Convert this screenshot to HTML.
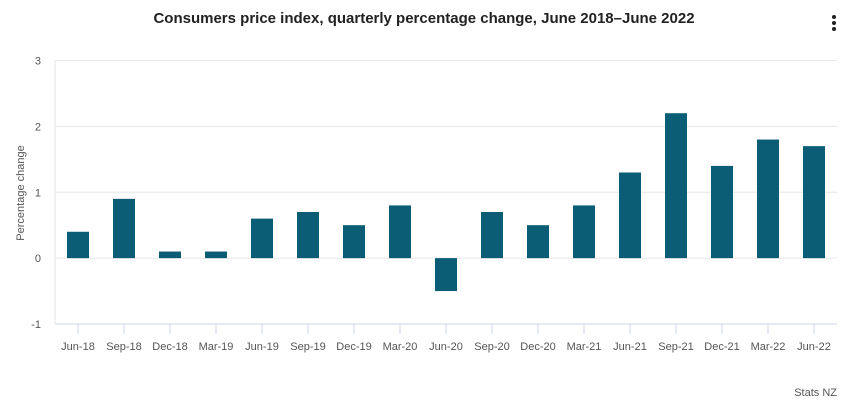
<!DOCTYPE html>
<html><head><meta charset="utf-8"><style>
body{margin:0;background:#fff;font-family:"Liberation Sans",sans-serif}
svg{display:block}
</style></head><body>
<svg width="848" height="400" id="c">
<text x="424" y="23" text-anchor="middle" font-size="15" font-weight="bold" fill="#222">Consumers price index, quarterly percentage change, June 2018–June 2022</text>
<g fill="#222"><circle cx="834" cy="17" r="2"/><circle cx="834" cy="23" r="2"/><circle cx="834" cy="29" r="2"/></g>
<text transform="translate(24,193) rotate(-90)" text-anchor="middle" font-size="11" fill="#555">Percentage change</text>
<text x="837" y="396" text-anchor="end" font-size="11" fill="#555">Stats NZ</text>
<g id="grid"></g><g id="bars"></g><g id="xl"></g>
</svg>
<script>
const categories=["Jun-18","Sep-18","Dec-18","Mar-19","Jun-19","Sep-19","Dec-19","Mar-20","Jun-20","Sep-20","Dec-20","Mar-21","Jun-21","Sep-21","Dec-21","Mar-22","Jun-22"];
const values=[0.4,0.9,0.1,0.1,0.6,0.7,0.5,0.8,-0.5,0.7,0.5,0.8,1.3,2.2,1.4,1.8,1.7];
const yTicks=[-1,0,1,2,3];
const L=55,R=837,T=60.5,B=324;
const y=v=>B-(v+1)/4*(B-T);
const bw=(R-L)/categories.length;
const x=i=>L+bw*(i+0.5);
const NS="http://www.w3.org/2000/svg";
function mk(t,a,p){const e=document.createElementNS(NS,t);for(const k in a)e.setAttribute(k,a[k]);p.appendChild(e);return e;}
const g=document.getElementById('grid');
yTicks.forEach(v=>{
 const l=mk('line',{x1:L,x2:R,y1:y(v),y2:y(v),stroke:v===-1?'#ccd6eb':'#e6e6e6'},g);
 
 
 const t=mk('text',{x:41,y:y(v)+4,'text-anchor':'end','font-size':11,fill:'#555'},g);
 t.textContent=v;
 
 
});
const ax=mk('line',{x1:L,x2:L,y1:T,y2:B,stroke:'#e6e6e6'},g);


const bg=document.getElementById('bars');
values.forEach((v,i)=>{
 const r=mk('rect',{x:x(i)-11,width:22,y:Math.min(y(v),y(0)),height:Math.abs(y(v)-y(0)),fill:'#0b5c75'},bg);
 
 
});
const xl=document.getElementById('xl');
categories.forEach((c,i)=>{
 const tk=mk('line',{x1:x(i),x2:x(i),y1:B,y2:B+10,stroke:'#ccd6eb'},xl);
 
 
 const t=mk('text',{x:x(i),y:B+26,'text-anchor':'middle','font-size':11,fill:'#555'},xl);
 t.textContent=c;
 
 
});
</script>
</body></html>
